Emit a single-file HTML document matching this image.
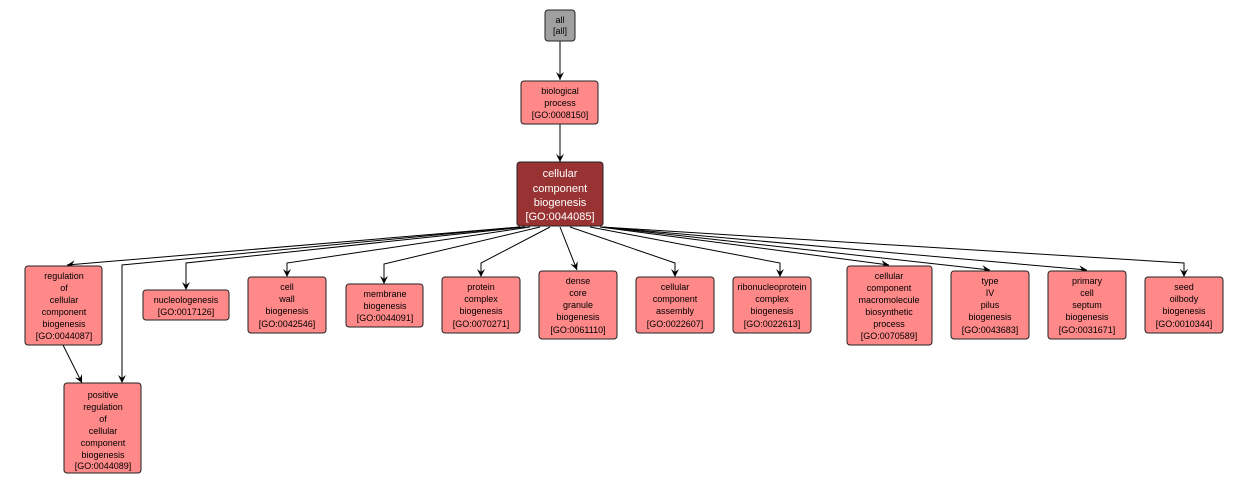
<!DOCTYPE html>
<html><head><meta charset="utf-8"><style>
html,body{margin:0;padding:0;background:#fff;}
svg{display:block;}
text{font-family:"Liberation Sans",sans-serif;font-size:9px;text-anchor:middle;fill:#000;}
.n{fill:#ff8888;stroke:#222;stroke-width:1;}
.e{fill:none;stroke:#000;stroke-width:1;}
</style></head><body>
<svg width="1249" height="485" viewBox="0 0 1249 485" xmlns="http://www.w3.org/2000/svg">
<defs><marker id="a" markerWidth="10" markerHeight="10" refX="8" refY="4" orient="auto" markerUnits="userSpaceOnUse"><path d="M0,0 L8,4 L0,8 L3,4 z" fill="#000"/></marker></defs>
<g class="e" marker-end="url(#a)">
<line x1="560" y1="41" x2="560" y2="80"/>
<line x1="560" y1="124" x2="560" y2="162"/>
<polyline points="520,227 67,265"/>
<polyline points="520,227 122,265 122,383"/>
<polyline points="525,227 186,263 186,290"/>
<polyline points="530,227 287,263 287,277"/>
<polyline points="540,227 384,264 384,284"/>
<polyline points="550,227 481,263 481,277"/>
<line x1="560" y1="227" x2="577" y2="270"/>
<polyline points="570,227 675,263 675,277"/>
<polyline points="590,227 780,263 780,277"/>
<polyline points="600,227 889,265"/>
<polyline points="602,227 990,270"/>
<polyline points="602,227 1087,270"/>
<polyline points="602,227 1184,263 1184,277"/>
<line x1="63" y1="345" x2="82" y2="383"/>
</g>
<rect class="n" x="545" y="10" width="30" height="31" rx="3" fill="#aaa" style="fill:#a0a0a0"/>
<text x="560" y="23">all</text><text x="560" y="34">[all]</text>
<rect class="n" x="521" y="81" width="77" height="43" rx="3"/>
<text x="560" y="94">biological</text><text x="560" y="106">process</text><text x="560" y="118">[GO:0008150]</text>
<rect class="n" x="517" y="162" width="86" height="64" rx="3" style="fill:#993333"/>
<g style="fill:#fff"><text x="560" y="177" style="font-size:11px;fill:#fff">cellular</text><text x="560" y="192" style="font-size:11px;fill:#fff">component</text><text x="560" y="206" style="font-size:11px;fill:#fff">biogenesis</text><text x="560" y="220" style="font-size:11px;fill:#fff">[GO:0044085]</text></g>

<rect class="n" x="25" y="266" width="77" height="79" rx="3"/>
<text x="64" y="279">regulation</text><text x="64" y="291">of</text><text x="64" y="303">cellular</text><text x="64" y="315">component</text><text x="64" y="327">biogenesis</text><text x="64" y="339">[GO:0044087]</text>

<rect class="n" x="64" y="383" width="77" height="90" rx="3"/>
<text x="103" y="398">positive</text><text x="103" y="410">regulation</text><text x="103" y="422">of</text><text x="103" y="434">cellular</text><text x="103" y="446">component</text><text x="103" y="458">biogenesis</text><text x="103" y="469">[GO:0044089]</text>

<rect class="n" x="143" y="290" width="86" height="30" rx="3"/>
<text x="186" y="303">nucleologenesis</text><text x="186" y="315">[GO:0017126]</text>

<rect class="n" x="248" y="277" width="78" height="56" rx="3"/>
<text x="287" y="290">cell</text><text x="287" y="302">wall</text><text x="287" y="314">biogenesis</text><text x="287" y="327">[GO:0042546]</text>

<rect class="n" x="346" y="284" width="77" height="43" rx="3"/>
<text x="385" y="297">membrane</text><text x="385" y="309">biogenesis</text><text x="385" y="321">[GO:0044091]</text>

<rect class="n" x="442" y="277" width="78" height="56" rx="3"/>
<text x="481" y="290">protein</text><text x="481" y="302">complex</text><text x="481" y="314">biogenesis</text><text x="481" y="327">[GO:0070271]</text>

<rect class="n" x="539" y="271" width="78" height="68" rx="3"/>
<text x="578" y="284">dense</text><text x="578" y="296">core</text><text x="578" y="308">granule</text><text x="578" y="320">biogenesis</text><text x="578" y="333">[GO:0061110]</text>

<rect class="n" x="636" y="277" width="78" height="56" rx="3"/>
<text x="675" y="290">cellular</text><text x="675" y="302">component</text><text x="675" y="314">assembly</text><text x="675" y="327">[GO:0022607]</text>

<rect class="n" x="733" y="277" width="78" height="56" rx="3"/>
<text x="772" y="290">ribonucleoprotein</text><text x="772" y="302">complex</text><text x="772" y="314">biogenesis</text><text x="772" y="327">[GO:0022613]</text>

<rect class="n" x="847" y="266" width="85" height="79" rx="3"/>
<text x="889" y="279">cellular</text><text x="889" y="291">component</text><text x="889" y="303">macromolecule</text><text x="889" y="315">biosynthetic</text><text x="889" y="327">process</text><text x="889" y="339">[GO:0070589]</text>

<rect class="n" x="951" y="271" width="78" height="68" rx="3"/>
<text x="990" y="284">type</text><text x="990" y="296">IV</text><text x="990" y="308">pilus</text><text x="990" y="320">biogenesis</text><text x="990" y="333">[GO:0043683]</text>

<rect class="n" x="1048" y="271" width="78" height="68" rx="3"/>
<text x="1087" y="284">primary</text><text x="1087" y="296">cell</text><text x="1087" y="308">septum</text><text x="1087" y="320">biogenesis</text><text x="1087" y="333">[GO:0031671]</text>

<rect class="n" x="1145" y="277" width="78" height="56" rx="3"/>
<text x="1184" y="290">seed</text><text x="1184" y="302">oilbody</text><text x="1184" y="314">biogenesis</text><text x="1184" y="327">[GO:0010344]</text>
</svg>
</body></html>
